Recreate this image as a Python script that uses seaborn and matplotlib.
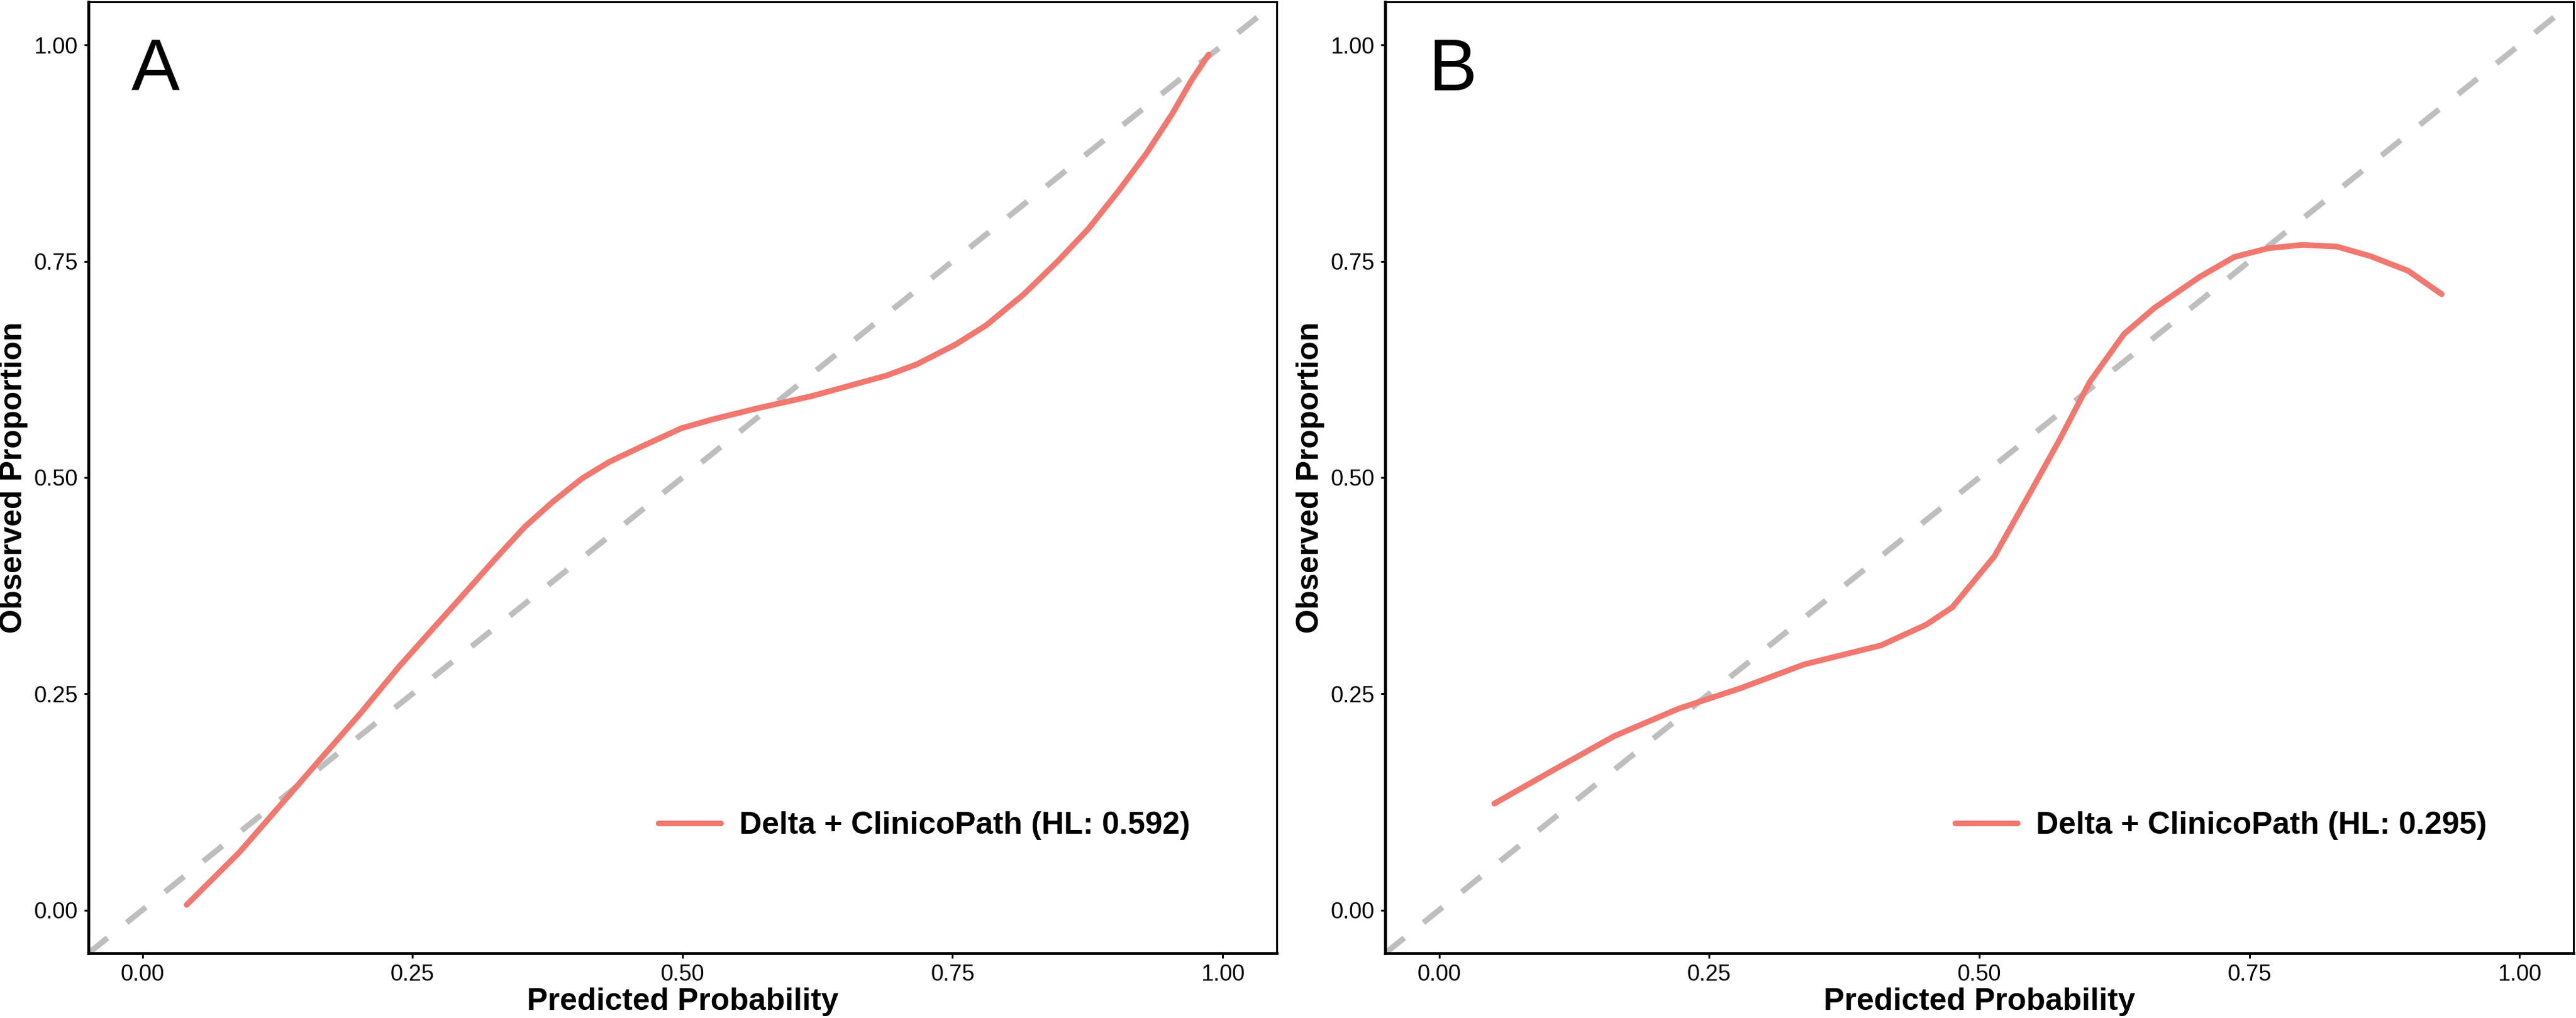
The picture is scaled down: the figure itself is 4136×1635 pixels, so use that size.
import numpy as np
import pandas as pd
import matplotlib
matplotlib.use("Agg")
import matplotlib.pyplot as plt
import seaborn as sns

# Calibration curves
pred_a = [0.041, 0.090, 0.129, 0.161, 0.203, 0.238, 0.263, 0.291, 0.326, 0.354,
          0.379, 0.407, 0.432, 0.464, 0.499, 0.527, 0.569, 0.619, 0.689, 0.717,
          0.753, 0.781, 0.816, 0.848, 0.876, 0.904, 0.929, 0.953, 0.971, 0.987]
obs_a = [0.006, 0.067, 0.123, 0.169, 0.229, 0.282, 0.317, 0.356, 0.405, 0.443,
         0.471, 0.499, 0.518, 0.537, 0.557, 0.567, 0.580, 0.594, 0.618, 0.631,
         0.654, 0.676, 0.712, 0.751, 0.788, 0.832, 0.874, 0.920, 0.959, 0.989]

pred_b = [0.051, 0.106, 0.162, 0.222, 0.278, 0.338, 0.409, 0.451, 0.475, 0.514,
          0.546, 0.574, 0.602, 0.634, 0.662, 0.704, 0.736, 0.767, 0.799, 0.831,
          0.862, 0.897, 0.928]
obs_b = [0.123, 0.162, 0.201, 0.233, 0.256, 0.284, 0.306, 0.330, 0.350, 0.409,
         0.480, 0.543, 0.610, 0.666, 0.696, 0.732, 0.755, 0.765, 0.769, 0.767,
         0.756, 0.739, 0.712]

panel_tags = ["A", "B"]
legend_labels = ["Delta + ClinicoPath (HL: 0.592)", "Delta + ClinicoPath (HL: 0.295)"]
tick_vals = [0.0, 0.25, 0.5, 0.75, 1.0]
tick_text = ["0.00", "0.25", "0.50", "0.75", "1.00"]

curve_color = "#F2776E"
diag_color = "#BEBEBE"

sns.set_style("ticks")
plt.rcParams["font.family"] = ["Liberation Sans", "DejaVu Sans"]
plt.rcParams.update({"text.color": "black", "axes.labelcolor": "black",
                     "xtick.color": "black", "ytick.color": "black"})

fig = plt.figure(figsize=(4136 / 300, 1635 / 300), dpi=300)
axes = [fig.add_axes([0.0343, 0.0636, 0.4613, 0.9346]),
        fig.add_axes([0.5377, 0.0636, 0.4613, 0.9346])]

curves = [(pred_a, obs_a), (pred_b, obs_b)]

for ax, (px, py), tag, lab in zip(axes, curves, panel_tags, legend_labels):
    df = pd.DataFrame({"pred": px, "obs": py})
    ax.axline((0, 0), (1, 1), color=diag_color, linewidth=2.2,
              linestyle=(0, (4.3, 4.3)), zorder=1)
    sns.lineplot(data=df, x="pred", y="obs", ax=ax, color=curve_color,
                 linewidth=2.2, estimator=None, sort=False, label=lab, zorder=2)

    ax.set_xlim(-0.05, 1.05)
    ax.set_ylim(-0.05, 1.05)
    ax.set_xticks(tick_vals)
    ax.set_xticklabels(tick_text)
    ax.set_yticks(tick_vals)
    ax.set_yticklabels(tick_text)
    ax.tick_params(axis="both", labelsize=8.7, length=1.8, width=0.7,
                   pad=2.3, colors="black", labelcolor="black")

    for side in ["left", "bottom"]:
        ax.spines[side].set_linewidth(1.1)
        ax.spines[side].set_color("black")
    for side in ["top", "right"]:
        ax.spines[side].set_linewidth(0.75)
        ax.spines[side].set_color("black")
        ax.spines[side].set_visible(True)

    ax.set_xlabel("Predicted Probability", fontsize=12, fontweight="bold", color="black")
    ax.set_ylabel("Observed Proportion", fontsize=12, fontweight="bold", color="black")
    ax.xaxis.set_label_coords(0.5, -0.036)
    ax.yaxis.set_label_coords(-0.051, 0.5)

    ax.text(-0.01, 0.948, tag, fontsize=28, ha="left", va="baseline", color="black")

    leg = ax.legend(loc="center right", bbox_to_anchor=(0.927, 0.134),
                    frameon=False, borderpad=0, borderaxespad=0,
                    handlelength=2.0, handletextpad=0.6,
                    prop={"size": 12, "weight": "bold"})
    for txt in leg.get_texts():
        txt.set_color("black")
    for line in leg.get_lines():
        line.set_linewidth(2.2)

fig.savefig("out.png", dpi=300, facecolor="white")
